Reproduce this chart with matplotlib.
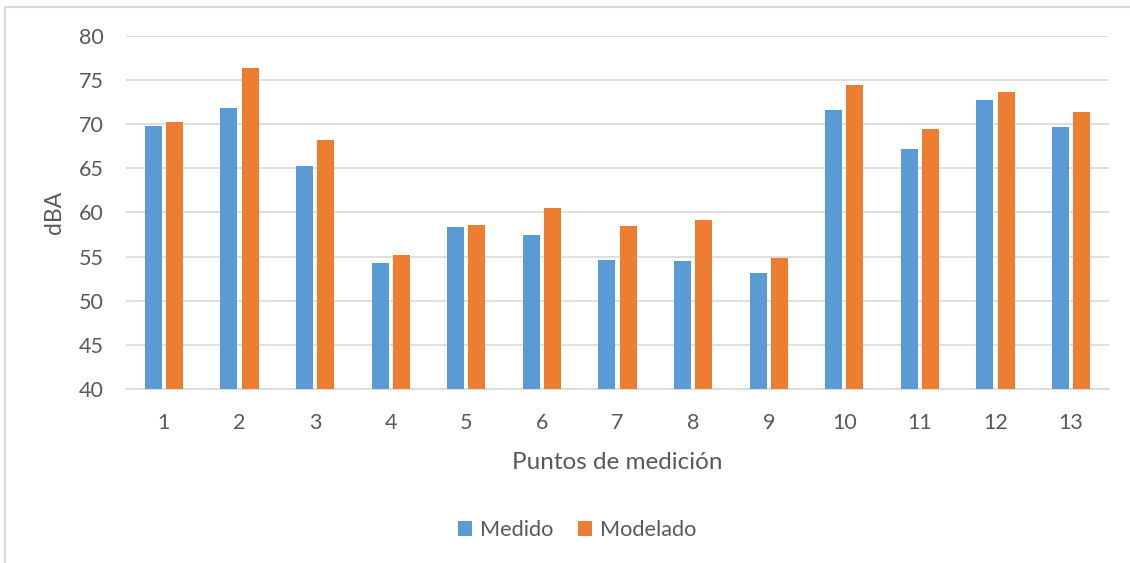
import numpy as np
import matplotlib
matplotlib.use('Agg')
import matplotlib.pyplot as plt
from matplotlib.patches import Rectangle

puntos = ['1', '2', '3', '4', '5', '6', '7', '8', '9', '10', '11', '12', '13']
medido = [69.8, 71.8, 65.3, 54.3, 58.4, 57.5, 54.6, 54.5, 53.2, 71.6, 67.2, 72.8, 69.7]
modelado = [70.3, 76.4, 68.2, 55.2, 58.6, 60.5, 58.5, 59.2, 54.8, 74.5, 69.5, 73.7, 71.4]
y_ticks = [40, 45, 50, 55, 60, 65, 70, 75, 80]

plt.rcParams['font.family'] = ['Lato', 'DejaVu Sans']
gris = '#595959'

W, H = 1130, 563
fig = plt.figure(figsize=(W / 100, H / 100), dpi=100)
ax = fig.add_axes([126 / W, 1 - 389 / H, (1109 - 126) / W, (389 - 36) / H])

# thin chart frame
fig.patches.append(Rectangle((5 / W, -0.05), 1.2, 1 - 7 / H + 0.05, transform=fig.transFigure,
                             fill=False, edgecolor='#D9D9D9', linewidth=1.5))

x = np.arange(len(puntos))
w = 0.225
ax.bar(x - 0.14, medido, w, color='#5B9BD5', label='Medido', zorder=3)
ax.bar(x + 0.14, modelado, w, color='#ED7D31', label='Modelado', zorder=3)

ax.set_xlim(-0.5, len(puntos) - 0.5)
ax.set_ylim(40, 80)
ax.set_yticks(y_ticks)
ax.set_xticks(x)
ax.set_xticklabels(puntos)
ax.grid(axis='y', color='#D9D9D9', linewidth=1.2, zorder=0)
for s in ['top', 'right', 'left']:
    ax.spines[s].set_visible(False)
ax.spines['bottom'].set_color('#D9D9D9')
ax.spines['bottom'].set_linewidth(1.2)
ax.tick_params(axis='both', length=0, labelsize=15.5, colors=gris)
ax.tick_params(axis='y', pad=16)
ax.tick_params(axis='x', pad=17)

ax.set_ylabel('dBA', fontsize=16.5, color=gris, labelpad=10)
ax.set_xlabel('Puntos de medición', fontsize=17.5, color=gris, labelpad=14)

leg = fig.legend(loc='center', bbox_to_anchor=(577 / W, 1 - 530 / H), ncol=2, frameon=False,
                 fontsize=15.6, handlelength=0.65, handleheight=0.65, handletextpad=0.35,
                 columnspacing=1.15)
for t in leg.get_texts():
    t.set_color(gris)

fig.savefig('out.png', dpi=100)
